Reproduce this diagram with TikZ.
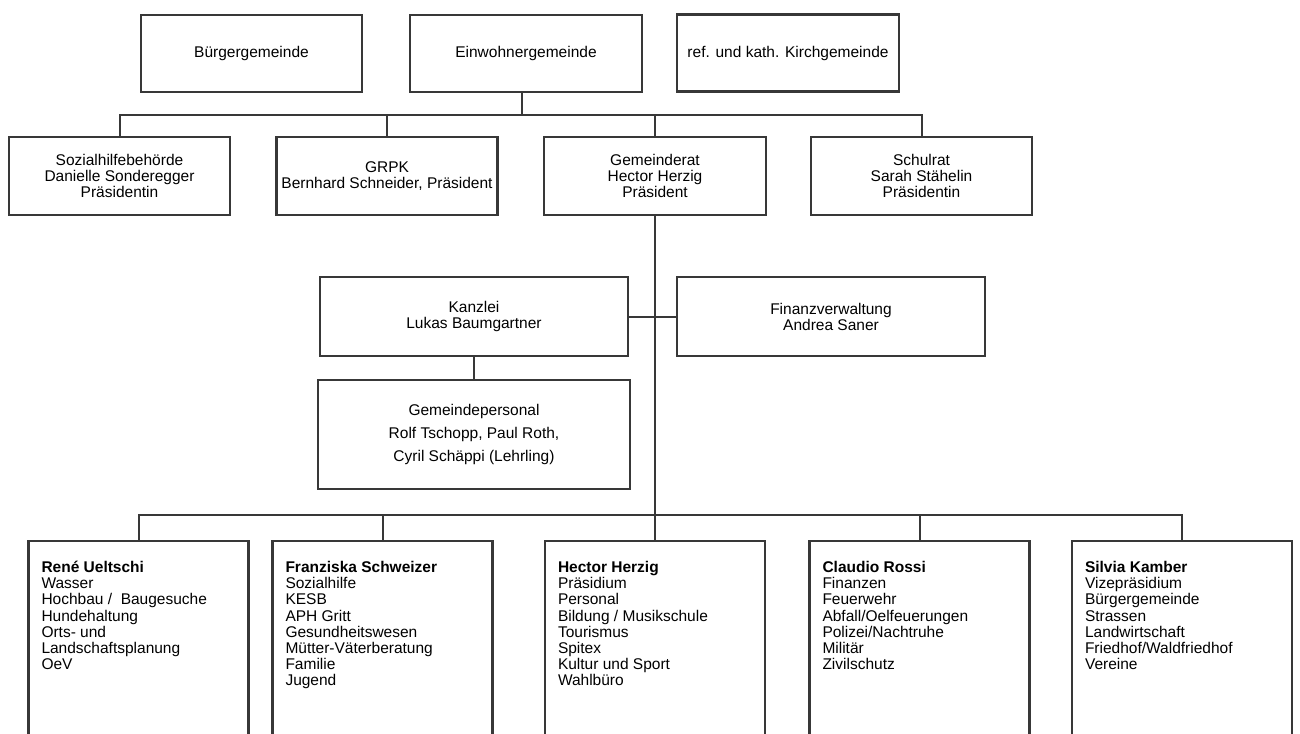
\documentclass[tikz,border=0pt]{standalone}
\usepackage{fontspec}
\setmainfont{Liberation Sans}
\usetikzlibrary{positioning}

\begin{document}
\begin{tikzpicture}[x=1pt,y=-1pt,
		box/.style={draw=black!78,line width=2.4pt,align=center,minimum width=221pt,minimum height=77pt,inner sep=0pt,font=\fontsize{15.5}{16}\selectfont},
		duty/.style={draw=black!78,line width=2.4pt,minimum width=220pt,minimum height=215pt,anchor=north,inner sep=0pt},
		dutytext/.style={anchor=north west,align=left,inner sep=0pt,font=\fontsize{15.5}{16.2}\selectfont},
		link/.style={draw=black!78,line width=2pt}]
		\clip (0,0) rectangle (1300,733);
		\fill[white] (0,0) rectangle (1300,733);
		% Gemeinden
		\node[box] (buerger) at (251.5,53.5) {Bürgergemeinde};
		\node[box,minimum width=232pt] (einwohner) at (526,53.5) {Einwohnergemeinde};
		\node[box,minimum width=222pt] (kirche) at (788,53) {ref. und kath. Kirchgemeinde};
		% Behörden
		\node[box,minimum height=78pt] (sozial) at (119.5,176) {Sozialhilfebehörde\\Danielle Sonderegger\\Präsidentin};
		\node[box,minimum height=78pt] (grpk) at (387,176) {GRPK\\Bernhard Schneider, Präsident};
		\node[box,minimum height=78pt,minimum width=222pt] (gemeinderat) at (655,176) {Gemeinderat\\Hector Herzig\\Präsident};
		\node[box,minimum height=78pt] (schulrat) at (921.5,176) {Schulrat\\Sarah Stähelin\\Präsidentin};
		% Verwaltung
		\node[box,minimum height=79pt,minimum width=307.5pt] (kanzlei) at (474,316.5) {Kanzlei\\Lukas Baumgartner};
		\node[box,minimum height=79pt,minimum width=308pt] (finanz) at (831,316.5) {Finanzverwaltung\\Andrea Saner};
		\node[box,minimum height=109pt,minimum width=312pt,font=\fontsize{15.5}{23}\selectfont] (personal) at (474,434.5) {Gemeindepersonal\\Rolf Tschopp, Paul Roth,\\Cyril Schäppi (Lehrling)};
		% Ressorts
		\node[duty] (ueltschi) at (138.5,540) {};
		\node[duty] (schweizer) at (382.5,540) {};
		\node[duty] (herzig) at (655,540) {};
		\node[duty] (rossi) at (919.5,540) {};
		\node[duty] (kamber) at (1182,540) {};
		\node[dutytext] (ueltschi-t) at ([xshift=14pt,yshift=-21pt]ueltschi.north west) {\textbf{René Ueltschi}\\Wasser\\Hochbau /\ \ Baugesuche\\Hundehaltung\\Orts- und\\Landschaftsplanung\\OeV};
		\node[dutytext] (schweizer-t) at ([xshift=14pt,yshift=-21pt]schweizer.north west) {\textbf{Franziska Schweizer}\\Sozialhilfe\\KESB\\APH Gritt\\Gesundheitswesen\\Mütter-Väterberatung\\Familie\\Jugend};
		\node[dutytext] (herzig-t) at ([xshift=14pt,yshift=-21pt]herzig.north west) {\textbf{Hector Herzig}\\Präsidium\\Personal\\Bildung / Musikschule\\Tourismus\\Spitex\\Kultur und Sport\\Wahlbüro};
		\node[dutytext] (rossi-t) at ([xshift=14pt,yshift=-21pt]rossi.north west) {\textbf{Claudio Rossi}\\Finanzen\\Feuerwehr\\Abfall/Oelfeuerungen\\Polizei/Nachtruhe\\Militär\\Zivilschutz};
		\node[dutytext] (kamber-t) at ([xshift=14pt,yshift=-21pt]kamber.north west) {\textbf{Silvia Kamber}\\Vizepräsidium\\Bürgergemeinde\\Strassen\\Landwirtschaft\\Friedhof/Waldfriedhof\\Vereine};
		% Linien
		\coordinate (topbus) at (522,115);
		\coordinate (botbus) at (655,515);
		\draw[link] ([xshift=-4pt]einwohner.south) -- (topbus);
		\draw[link] (sozial.north) -- (sozial.north |- topbus) -| (schulrat.north);
		\draw[link] (grpk.north) -- (grpk.north |- topbus);
		\draw[link] (gemeinderat.north) -- (gemeinderat.north |- topbus);
		\draw[link] (gemeinderat.south) -- (botbus);
		\draw[link] (kanzlei.east) -- (finanz.west);
		\draw[link] (kanzlei.south) -- (personal.north);
		\draw[link] (ueltschi.north) -- (ueltschi.north |- botbus) -| (kamber.north);
		\draw[link] (schweizer.north) -- (schweizer.north |- botbus);
		\draw[link] (herzig.north) -- (herzig.north |- botbus);
		\draw[link] (rossi.north) -- (rossi.north |- botbus);
	\end{tikzpicture}
\end{document}
